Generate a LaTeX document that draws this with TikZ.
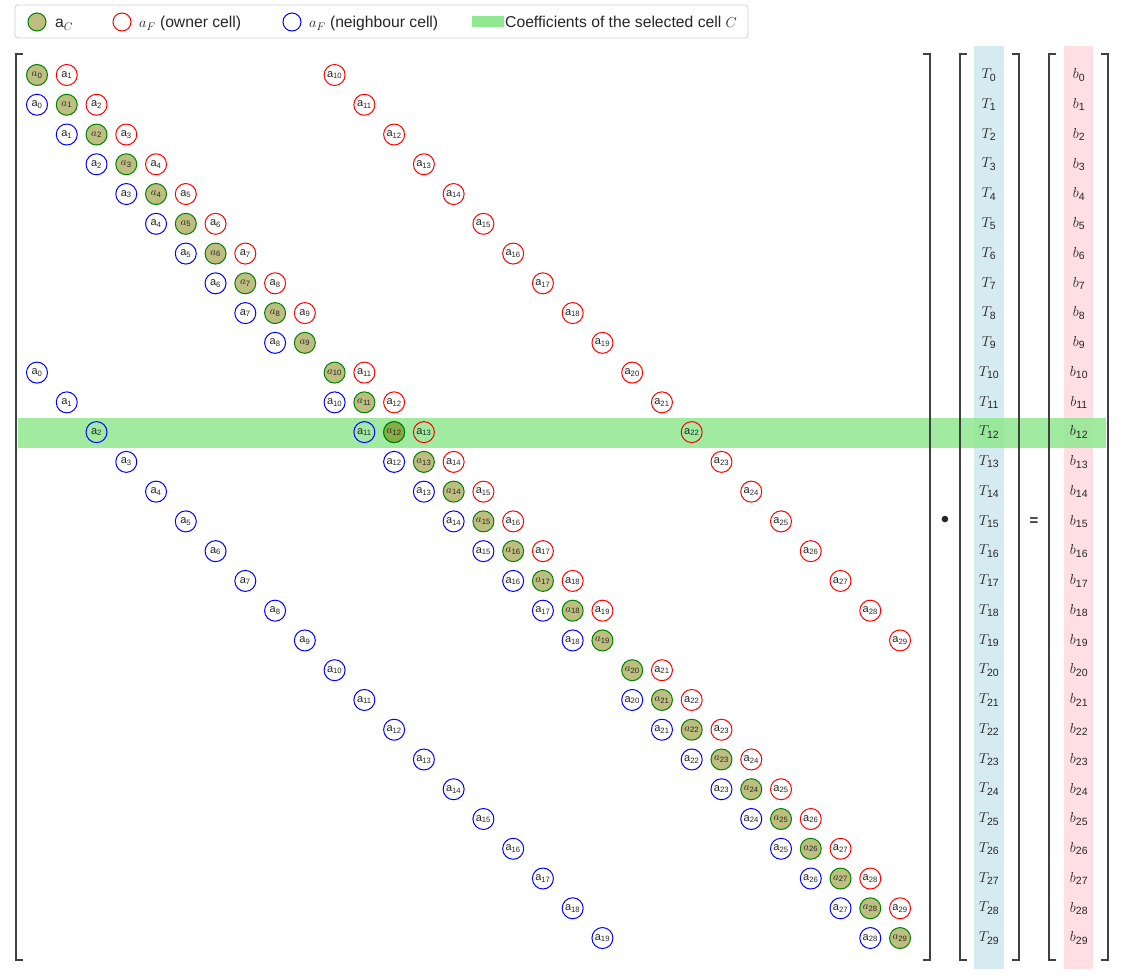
\documentclass[tikz,border=0pt]{standalone}
\usepackage{amsmath}
\usepackage{fontspec}
\setmainfont{Liberation Sans}
\definecolor{diagfill}{RGB}{190,190,128}
\definecolor{selfill}{RGB}{136,172,72}
\definecolor{bandgreen}{RGB}{144,232,144}
\definecolor{colblue}{RGB}{214,234,241}
\definecolor{colpink}{RGB}{255,222,228}
\definecolor{brk}{RGB}{64,64,64}
\definecolor{txt}{RGB}{38,38,38}
\definecolor{ownred}{RGB}{255,0,0}
\definecolor{nbblue}{RGB}{0,0,255}
\definecolor{dgreen}{RGB}{0,128,0}
\definecolor{legborder}{RGB}{208,208,208}
\newcommand\albl[1]{a$_{\text{#1}}$}
\newcommand\dlbl[1]{$a_{\text{#1}}$}
\begin{document}
\begin{tikzpicture}[x=1pt,y=-1pt,
  cell/.style={circle, minimum size=21pt, inner sep=0pt, line width=1pt, font=\fontsize{11}{11}\selectfont, text=txt},
  diagc/.style={cell, draw=dgreen, fill=diagfill},
  selc/.style={cell, draw=dgreen, fill=selfill},
  owner/.style={cell, draw=ownred},
  neigh/.style={cell, draw=nbblue},
  legtxt/.style={anchor=base west, inner sep=0pt, font=\fontsize{15.7}{15.7}\selectfont, text=txt},
  vec/.style={inner sep=0pt, font=\fontsize{15}{15}\selectfont, text=txt},
  bracket/.style={draw=brk, line width=2pt}
]
\useasboundingbox (0,0) rectangle (1130,976);
% vector columns
\fill[colblue] (974,46) rectangle (1004,969);
\fill[colpink] (1064,46) rectangle (1093,969);
% highlighted row
\fill[bandgreen, fill opacity=0.85] (18,418) rectangle (1106,448);
% brackets
\draw[bracket] (23,54) -- (16,54) -- (16,960) -- (23,960);
\draw[bracket] (923,54) -- (930,54) -- (930,960) -- (923,960);
\draw[bracket] (967,54) -- (960,54) -- (960,960) -- (967,960);
\draw[bracket] (1012,54) -- (1019,54) -- (1019,960) -- (1012,960);
\draw[bracket] (1056,54) -- (1049,54) -- (1049,960) -- (1056,960);
\draw[bracket] (1101,54) -- (1108,54) -- (1108,960) -- (1101,960);
% matrix entries
\foreach \i in {0,...,29}{
  \pgfmathtruncatemacro{\r}{mod(\i,10)}
  \pgfmathsetmacro{\yy}{75+\i*29.76}
  \node[diagc] (d\i) at ({37+\i*29.76},\yy) {\dlbl{\i}};
  \ifnum\r<9
    \pgfmathtruncatemacro{\j}{\i+1}
    \node[owner] (o\i-\j) at ({37+\j*29.76},\yy) {\albl{\j}};
  \fi
  \ifnum\i<20
    \pgfmathtruncatemacro{\k}{\i+10}
    \node[owner] (o\i-\k) at ({37+\k*29.76},\yy) {\albl{\k}};
  \fi
  \ifnum\r>0
    \pgfmathtruncatemacro{\j}{\i-1}
    \node[neigh] (n\i-\j) at ({37+\j*29.76},\yy) {\albl{\j}};
  \fi
  \ifnum\i>9
    \pgfmathtruncatemacro{\k}{\i-10}
    \node[neigh] (n\i-\k) at ({37+\k*29.76},\yy) {\albl{\k}};
  \fi
  \node[vec] (T\i) at (989,\yy) {$T_{\text{\i}}$};
  \node[vec] (b\i) at (1079,\yy) {$b_{\text{\i}}$};
}
\node[selc] (dsel) at ({37+12*29.76},{75+12*29.76}) {\dlbl{12}};
% operators
\node[vec, font=\fontsize{24}{24}\selectfont] (dot) at (945,522) {\textbullet};
\node[vec, font=\fontsize{15}{15}\selectfont\bfseries] (eq) at (1034,522) {=};
% legend
\draw[legborder, rounded corners=3pt, fill=white, line width=0.8pt] (15,5) rectangle (748,38);
\node[diagc, minimum size=18pt] (lg1) at (37,22) {};
\node[legtxt] (lt1) at (55,27.5) {a$_{C}$};
\node[owner, minimum size=18pt] (lg2) at (122,22) {};
\node[legtxt] (lt2) at (139,27.5) {$a_F$ (owner cell)};
\node[neigh, minimum size=18pt] (lg3) at (292,22) {};
\node[legtxt] (lt3) at (309,27.5) {$a_F$ (neighbour cell)};
\fill[bandgreen] (472,16) rectangle (504,27);
\node[legtxt] (lt4) at (505,27.5) {Coefficients of the selected cell $C$};
\end{tikzpicture}
\end{document}
